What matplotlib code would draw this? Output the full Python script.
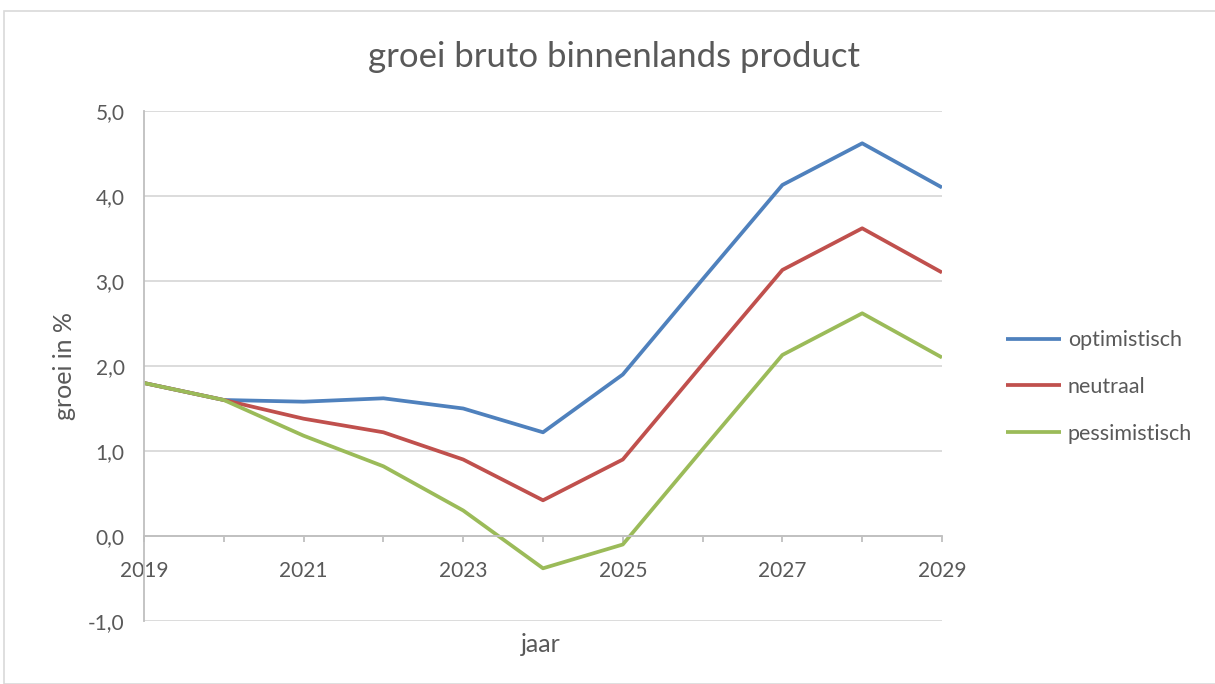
import matplotlib
matplotlib.use('Agg')
import matplotlib.pyplot as plt
from matplotlib.patches import Rectangle
from matplotlib.ticker import FixedLocator, MultipleLocator, FuncFormatter

plt.rcParams['font.family'] = ['Lato', 'DejaVu Sans']

jaren = list(range(2019, 2030))
optimistisch = [1.80, 1.60, 1.58, 1.62, 1.50, 1.22, 1.90, 3.02, 4.13, 4.62, 4.10]
neutraal = [1.80, 1.60, 1.38, 1.22, 0.90, 0.42, 0.90, 2.02, 3.13, 3.62, 3.10]
pessimistisch = [1.80, 1.60, 1.18, 0.82, 0.30, -0.38, -0.10, 1.02, 2.13, 2.62, 2.10]

reeksen = [('optimistisch', optimistisch, '#4F81BD'),
           ('neutraal', neutraal, '#C0504D'),
           ('pessimistisch', pessimistisch, '#9BBB59')]

grijs = '#595959'

fig = plt.figure(figsize=(12.15, 6.84), dpi=100)
fig.patches.append(Rectangle((4 / 1215, 0), 1, 1 - 11 / 684, transform=fig.transFigure,
                             fill=False, edgecolor='#D9D9D9', linewidth=1.2))
ax = fig.add_axes([144 / 1215, 1 - 621 / 684, 798 / 1215, 510 / 684])

for naam, waarden, kleur in reeksen:
    ax.plot(jaren, waarden, color=kleur, linewidth=2.7, label=naam,
            solid_capstyle='butt')

ax.set_xlim(2019, 2029)
ax.set_ylim(-1, 5)
ax.yaxis.set_major_locator(MultipleLocator(1))
ax.yaxis.set_major_formatter(FuncFormatter(lambda v, p: ('%.1f' % v).replace('.', ',')))
ax.xaxis.set_major_locator(FixedLocator(jaren[::2]))
ax.xaxis.set_minor_locator(FixedLocator(jaren))

ax.grid(axis='y', color='#D9D9D9', linewidth=1.3)
ax.set_axisbelow(True)
for s in ['top', 'right']:
    ax.spines[s].set_visible(False)
ax.spines['bottom'].set_position(('data', 0))
ax.spines['bottom'].set_color('#BFBFBF')
ax.spines['bottom'].set_linewidth(1.3)
ax.spines['left'].set_color('#BFBFBF')
ax.spines['left'].set_linewidth(1.3)

ax.tick_params(axis='y', length=0, pad=14, labelsize=15, labelcolor=grijs)
ax.tick_params(axis='x', which='both', direction='out', length=4, width=1.3,
               color='#BFBFBF', labelsize=15, labelcolor=grijs, pad=14)

fig.text(614 / 1215, 1 - 57 / 684, 'groei bruto binnenlands product',
         ha='center', va='center', fontsize=25, color=grijs)
fig.text(541 / 1215, 1 - 644 / 684, 'jaar', ha='center', va='center',
         fontsize=18, color=grijs)
fig.text(65 / 1215, 1 - 366 / 684, 'groei in %', ha='center', va='center',
         rotation=90, fontsize=18, color=grijs)

ax.legend(loc='center left', bbox_to_anchor=(987 / 1215, 1 - 387 / 684),
          bbox_transform=fig.transFigure, frameon=False, fontsize=15.5,
          labelcolor=grijs, handlelength=2.55, handletextpad=0.3, labelspacing=1.25)

fig.savefig('out.png', dpi=100)
